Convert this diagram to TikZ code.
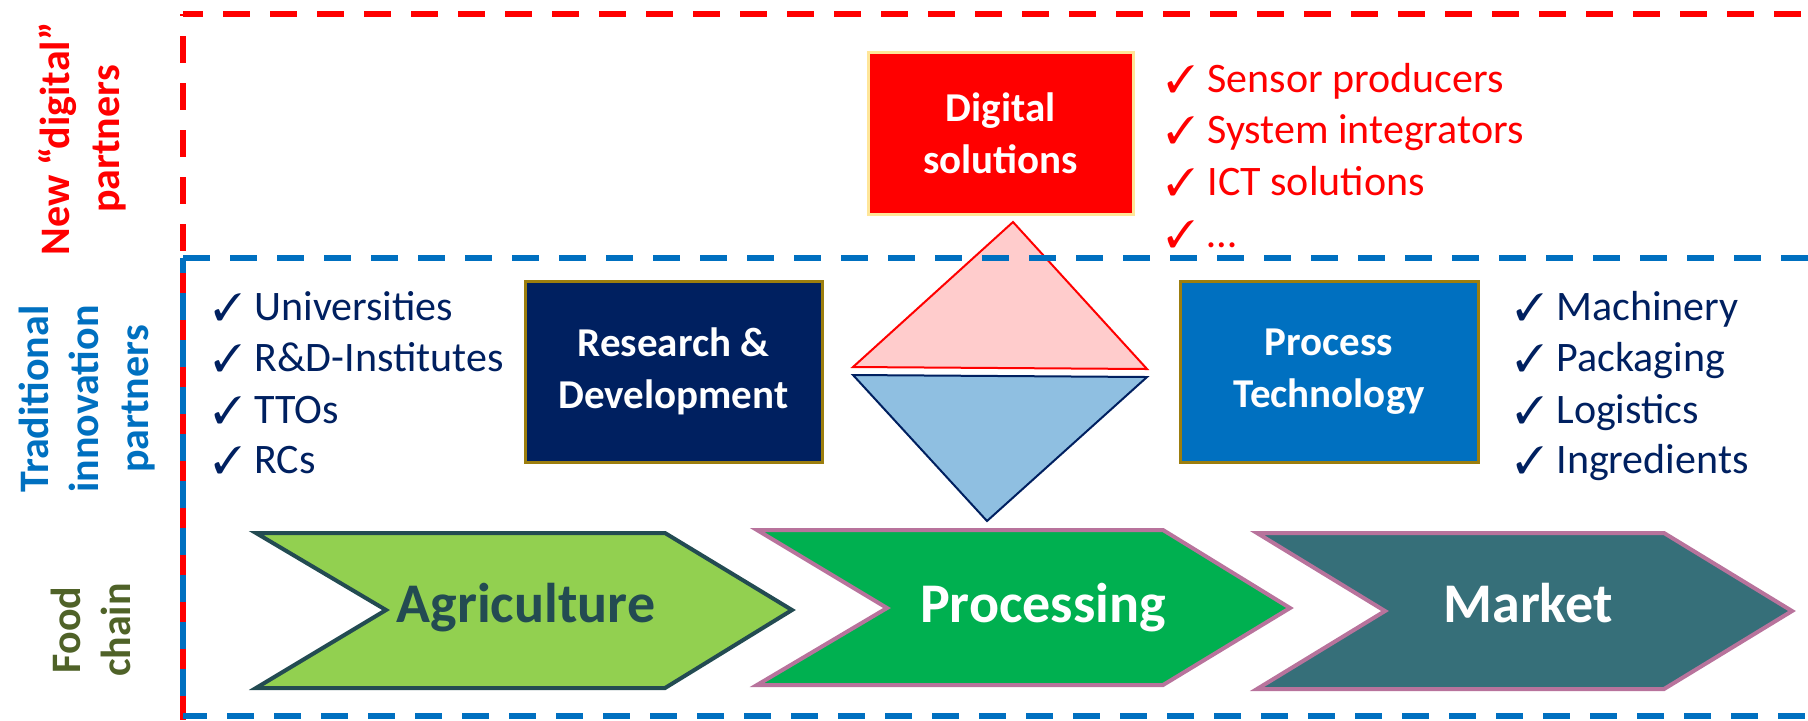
\documentclass[tikz,border=0pt]{standalone}
\usepackage{fontspec}
\setmainfont{Carlito}
\usepackage{pifont}
\definecolor{cred}{HTML}{FF0000}
\definecolor{cblue}{HTML}{0070C0}
\definecolor{cnavy}{HTML}{002060}
\definecolor{colive}{HTML}{4F6228}
\definecolor{cgold}{HTML}{9C7E0E}
\definecolor{cyell}{HTML}{FFE699}
\definecolor{cpink}{HTML}{FFCCCC}
\definecolor{clblue}{HTML}{8FBFE1}
\definecolor{cagri}{HTML}{92D050}
\definecolor{cagridark}{HTML}{234B52}
\definecolor{cproc}{HTML}{00B050}
\definecolor{cmarket}{HTML}{366F79}
\definecolor{cchevpink}{HTML}{B8739C}
\tikzset{
  sidelbl/.style={rotate=90, align=center, inner sep=0pt, font=\bfseries\fontsize{21pt}{25pt}\selectfont},
  listitem/.style={anchor=base west, inner sep=0pt, font=\fontsize{21pt}{25.5pt}\selectfont},
  partnerbox/.style={draw=cgold, line width=1.5pt, align=center, text=white, inner sep=0pt,
    font=\bfseries\fontsize{20.5pt}{26pt}\selectfont},
  chevshape/.style={line width=2pt, line join=miter},
  chevtext/.style={anchor=base, inner sep=0pt, font=\bfseries\fontsize{28pt}{30pt}\selectfont},
  reddash/.style={draw=cred, line width=2.75pt, dash pattern=on 13.5pt off 10pt},
  bluedash/.style={draw=cblue, line width=2.75pt, dash pattern=on 13.5pt off 10pt},
}
\newcommand{\chk}{\makebox[20.5pt][l]{\fontsize{19pt}{20pt}\selectfont\ding{51}}}
\begin{document}
\begin{tikzpicture}[x=0.5pt,y=-0.5pt]
\useasboundingbox (0,0) rectangle (1808,720);

% side labels
\node[sidelbl, text=cred] (lblnew) at (82,139) {New “digital”\\partners};
\node[sidelbl, text=cblue] (lbltrad) at (87,399) {Traditional\\innovation\\partners};
\node[sidelbl, text=colive] (lblfood) at (91,630) {Food\\chain};

% diamond triangles
\filldraw[fill=cpink, draw=cred, line width=1pt, line join=miter] (1013,222) -- (853,367) -- (1147,369) -- cycle;
\filldraw[fill=clblue, draw=cnavy, line width=1pt, line join=miter] (853,375) -- (1147,377) -- (987,521) -- cycle;

% frames
\coordinate (redTL) at (183,14);
\coordinate (redTR) at (1808,14);
\coordinate (redBL) at (183,720);
\coordinate (blueTL) at (183,258);
\coordinate (blueTR) at (1808,258);
\coordinate (blueBL) at (183,716);
\coordinate (blueBR) at (1808,716);
\draw[reddash, dash phase=3.5pt] (redTL) -- (redTR);
\draw[reddash, dash phase=12.5pt] (redTL) -- (redBL);
\draw[bluedash, dash phase=0pt] (blueTL) -- (blueTR);
\draw[bluedash, dash phase=1.5pt] (blueBL) -- (blueBR);
\draw[bluedash, dash phase=6pt] (blueTL) -- (blueBL);

% boxes
\node[partnerbox, fill=cred, draw=cyell, minimum width=132.5pt, minimum height=81pt] (digital) at (1000.5,133) {Digital\\solutions};
\node[partnerbox, fill=cnavy, minimum width=148.5pt, minimum height=90.5pt] (rnd) at (673.5,371.5) {Research \&\\Development};
\node[partnerbox, fill=cblue, minimum width=149pt, minimum height=90.5pt] (proc) at (1329,371.5) {Process\\Technology};

% red list
\node[listitem, text=cred] (d1) at (1166,92) {\chk Sensor producers};
\node[listitem, text=cred] (d2) at (1166,143) {\chk System integrators};
\node[listitem, text=cred] (d3) at (1166,195) {\chk ICT solutions};
\node[listitem, text=cred] (d4) at (1166,247) {\chk …};

% left list
\node[listitem, text=cnavy] (u1) at (213,320) {\chk Universities};
\node[listitem, text=cnavy] (u2) at (213,371) {\chk R\&D-Institutes};
\node[listitem, text=cnavy] (u3) at (213,423) {\chk TTOs};
\node[listitem, text=cnavy] (u4) at (213,473) {\chk RCs};

% right list
\node[listitem, text=cnavy] (m1) at (1515,320) {\chk Machinery};
\node[listitem, text=cnavy] (m2) at (1515,371) {\chk Packaging};
\node[listitem, text=cnavy] (m3) at (1515,423) {\chk Logistics};
\node[listitem, text=cnavy] (m4) at (1515,473) {\chk Ingredients};

% chevrons
\filldraw[chevshape, fill=cagri, draw=cagridark] (256,533) -- (665,533) -- (792,610) -- (665,688) -- (256,688) -- (386,610) -- cycle;
\filldraw[chevshape, fill=cproc, draw=cchevpink] (757,530) -- (1163,530) -- (1290,608) -- (1163,685) -- (757,685) -- (887,608) -- cycle;
\filldraw[chevshape, fill=cmarket, draw=cchevpink] (1257,533) -- (1664,533) -- (1792,611) -- (1664,689) -- (1257,689) -- (1385,611) -- cycle;
\node[chevtext, text=cagridark] (agri) at (526,622) {Agriculture};
\node[chevtext, text=white] (processing) at (1043,622) {Processing};
\node[chevtext, text=white] (market) at (1528,622) {Market};
\end{tikzpicture}
\end{document}
